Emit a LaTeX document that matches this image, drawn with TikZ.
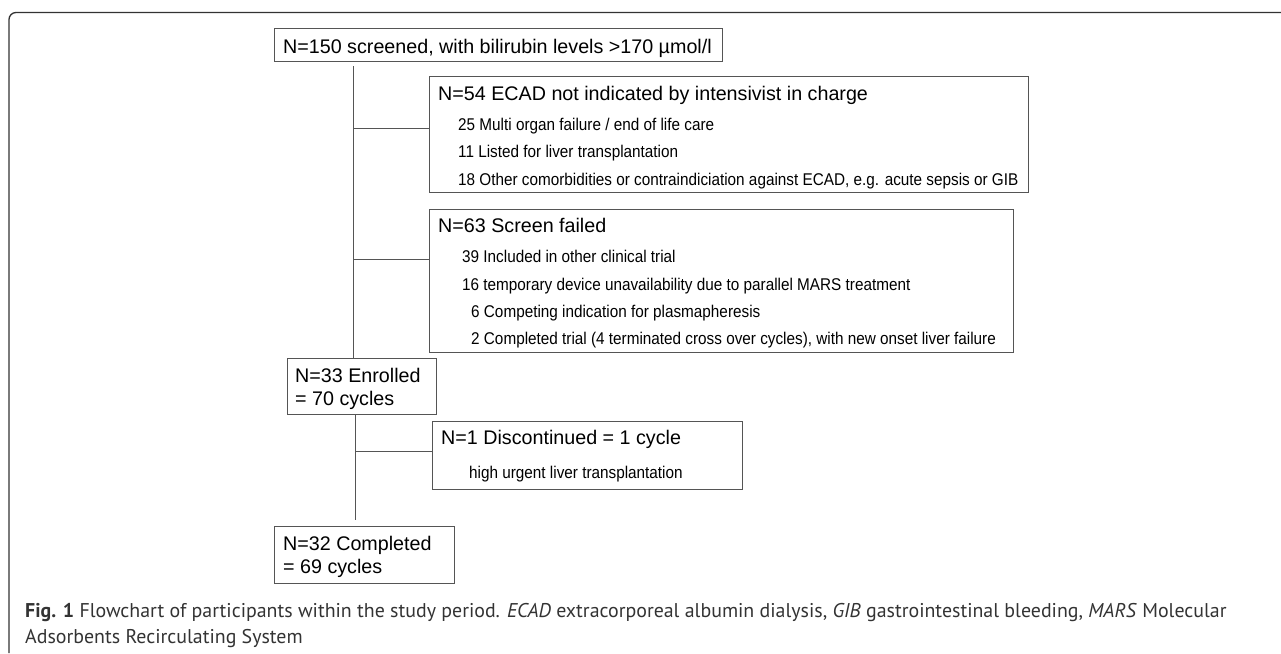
\documentclass[tikz,border=0pt]{standalone}
\usepackage{fontspec}
\setmainfont{Liberation Sans}
\newfontfamily\subf[FakeStretch=0.9]{Liberation Sans}
\newfontfamily\capf{PT Sans}
\definecolor{linegray}{HTML}{555555}
\definecolor{framegray}{HTML}{333333}
\definecolor{capgray}{HTML}{333333}
\begin{document}
\begin{tikzpicture}[x=1pt,y=-1pt,
  box/.style={draw=linegray, line width=1pt, inner sep=0pt, anchor=north west, rectangle},
  title/.style={anchor=base west, inner sep=0pt, font=\fontsize{19.7}{24}\selectfont},
  sub/.style={anchor=base west, inner sep=0pt, font=\subf\fontsize{17}{20}\selectfont},
  link/.style={draw=linegray, line width=1pt},
  captext/.style={anchor=base west, inner sep=0pt, text=capgray, font=\capf\fontsize{19.9}{24}\selectfont}]
\useasboundingbox (0,0) rectangle (1281,653);
% frame
\draw[framegray, line width=1.3pt, rounded corners=7pt] (9,653) -- (9,12.5) -- (1281,12.5);
% boxes
\node[box, minimum width=448pt, minimum height=33pt] (top) at (274,28) {};
\node[box, minimum width=599pt, minimum height=116pt] (b54) at (429,76) {};
\node[box, minimum width=584pt, minimum height=143pt] (b63) at (429,209) {};
\node[box, minimum width=148.5pt, minimum height=56pt] (enr) at (287,358) {};
\node[box, minimum width=310pt, minimum height=68pt] (b1) at (432,421) {};
\node[box, minimum width=180pt, minimum height=57pt] (cmp) at (274,526) {};
% texts
\node[title] (ttop) at (283,53) {N=150 screened, with bilirubin levels >170 µmol/l};
\node[title] (t54) at (438,100) {N=54 ECAD not indicated by intensivist in charge};
\node[sub] (s541) at (458,130.5) {25 Multi organ failure / end of life care};
\node[sub] (s542) at (458,157.5) {11 Listed for liver transplantation};
\node[sub] (s543) at (458,185.5) {18 Other comorbidities or contraindiciation against ECAD, e.g. acute sepsis or GIB};
\node[title] (t63) at (438,232) {N=63 Screen failed};
\node[sub] (s631) at (462,262) {39 Included in other clinical trial};
\node[sub] (s632) at (462,290) {16 temporary device unavailability due to parallel MARS treatment};
\node[sub] (s633) at (471,317) {6 Competing indication for plasmapheresis};
\node[sub] (s634) at (471,344) {2 Completed trial (4 terminated cross over cycles), with new onset liver failure};
\node[title] (te1) at (295,382.5) {N=33 Enrolled};
\node[title] (te2) at (295,405) {= 70 cycles};
\node[title] (t1) at (441,444) {N=1 Discontinued = 1 cycle};
\node[sub] (s11) at (469,478) {high urgent liver transplantation};
\node[title] (tc1) at (283,550) {N=32 Completed};
\node[title] (tc2) at (283,573) {= 69 cycles};
% connectors
\coordinate (tk1) at (353,66);
\coordinate (c54) at ([yshift=6pt]b54.west);
\coordinate (c63) at ([yshift=21.5pt]b63.west);
\coordinate (c1) at ([yshift=4pt]b1.west);
\coordinate (tk2) at ([xshift=-6pt]enr.south);
\draw[link] (tk1) -- (tk1 |- enr.north);
\draw[link] (tk1 |- c54) -- (c54);
\draw[link] (tk1 |- c63) -- (c63);
\draw[link, shorten >=6pt] (tk2) -- (tk2 |- cmp.north);
\draw[link] (tk2 |- c1) -- (c1);
% caption
\node[captext] (cap1) at (25,617) {\textbf{Fig. 1} Flowchart of participants within the study period. \textit{ECAD} extracorporeal albumin dialysis, \textit{GIB} gastrointestinal bleeding, \textit{MARS} Molecular};
\node[captext] (cap2) at (25,643) {Adsorbents Recirculating System};
\end{tikzpicture}
\end{document}
